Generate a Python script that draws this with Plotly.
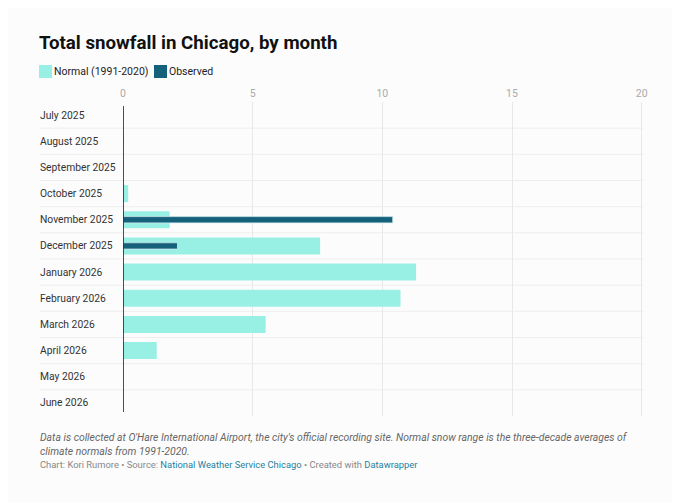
import plotly.graph_objects as go

months = ["July 2025", "August 2025", "September 2025", "October 2025", "November 2025",
          "December 2025", "January 2026", "February 2026", "March 2026", "April 2026",
          "May 2026", "June 2026"]
normal = [0, 0, 0, 0.2, 1.8, 7.6, 11.3, 10.7, 5.5, 1.3, 0, 0]
observed = [0, 0, 0, 0, 10.4, 2.1, None, None, None, None, None, None]
x_ticks = [0, 5, 10, 15, 20]

OFF = 8  # page body margin
W, H = 680 - OFF, 503 - OFF
PL, PR, PT, PB = 123, 643, 102, 416
L, T = PL - OFF, PT - OFF
R, B = (680 - OFF) - (PR - OFF), H - (PB - OFF)
PW = W - L - R
PH = H - T - B

def px_x(px):
    return (px - OFF - L) / PW

def px_y(py):
    return 1 - (py - OFF - T) / PH

BG = "#fcfcfc"
NORMAL_C = "#98f0e4"
OBS_C = "#15607a"
FONT = "Roboto"

fig = go.Figure()
fig.add_trace(go.Bar(y=months, x=normal, orientation="h", name="Normal (1991-2020)",
                     marker=dict(color=NORMAL_C, line=dict(width=0)), width=0.65,
                     hoverinfo="x+y"))
fig.add_trace(go.Bar(y=months, x=observed, orientation="h", name="Observed",
                     marker=dict(color=OBS_C, line=dict(width=0.8, color="#cfe8ee")), width=0.24,
                     hoverinfo="x+y"))

shapes = []
for i in range(len(months) - 1):
    shapes.append(dict(type="line", xref="paper", yref="y", x0=px_x(40), x1=px_x(643),
                       y0=i + 0.5, y1=i + 0.5, line=dict(color="#eeeeee", width=1), layer="below"))
shapes.append(dict(type="line", xref="x", yref="paper", x0=0, x1=0,
                   y0=px_y(412), y1=px_y(106), line=dict(color="#222222", width=1.6)))
shapes.append(dict(type="rect", xref="paper", yref="paper", x0=px_x(39), x1=px_x(52),
                   y0=px_y(78), y1=px_y(65), fillcolor=NORMAL_C, line=dict(width=0)))
shapes.append(dict(type="rect", xref="paper", yref="paper", x0=px_x(154), x1=px_x(167),
                   y0=px_y(78), y1=px_y(65), fillcolor=OBS_C, line=dict(width=0)))

annotations = []
for m in months:
    annotations.append(dict(text=m, x=px_x(38), xref="paper", y=m, yref="y",
                            xanchor="left", yanchor="middle", showarrow=False,
                            font=dict(family=FONT, size=10.3, color="#333333")))
annotations.append(dict(text="Normal (1991-2020)", x=px_x(52), y=px_y(71.5), xref="paper", yref="paper",
                        xanchor="left", yanchor="middle", showarrow=False,
                        font=dict(family=FONT, size=10.5, color="#222222")))
annotations.append(dict(text="Observed", x=px_x(167), y=px_y(71.5), xref="paper", yref="paper",
                        xanchor="left", yanchor="middle", showarrow=False,
                        font=dict(family=FONT, size=10.5, color="#222222")))
annotations.append(dict(text="<i>Data is collected at O'Hare International Airport, the city's official recording site. Normal snow range is the three-decade averages of<br>climate normals from 1991-2020.</i>",
                        x=px_x(38), y=px_y(429), xref="paper", yref="paper",
                        xanchor="left", yanchor="top", align="left", showarrow=False,
                        font=dict(family=FONT, size=10.4, color="#666666")))
annotations.append(dict(text="Chart: Kori Rumore • Source: <span style='color:#1d81a2'>National Weather Service Chicago</span> • Created with <span style='color:#1d81a2'>Datawrapper</span>",
                        x=px_x(38), y=px_y(464.5), xref="paper", yref="paper",
                        xanchor="left", yanchor="middle", align="left", showarrow=False,
                        font=dict(family=FONT, size=9.4, color="#888888")))

fig.update_layout(
    width=W, height=H,
    margin=dict(l=L, r=R, t=T, b=B),
    paper_bgcolor=BG, plot_bgcolor=BG,
    barmode="overlay", showlegend=False,
    title=dict(text="<b>Total snowfall in Chicago, by month</b>", x=(39 - OFF) / W,
               xref="container", xanchor="left", y=1 - (42 - OFF) / H, yref="container",
               yanchor="middle", font=dict(family=FONT, size=18.7, color="#111111")),
    xaxis=dict(side="top", range=[0, 20.05], tickvals=x_ticks, ticktext=[str(v) for v in x_ticks],
               showgrid=True, gridcolor="#e8e8e8", gridwidth=1, zeroline=False,
               showline=False, ticks="", ticklabelstandoff=2,
               tickfont=dict(family=FONT, size=10.5, color="#aaaaaa"), fixedrange=True),
    yaxis=dict(categoryorder="array", categoryarray=months, autorange=False, range=[11.5, -0.5],
               showticklabels=False, showgrid=False, zeroline=False, showline=False, ticks="",
               fixedrange=True),
    shapes=shapes, annotations=annotations,
    font=dict(family=FONT),
)

fig.write_html("out.html")
